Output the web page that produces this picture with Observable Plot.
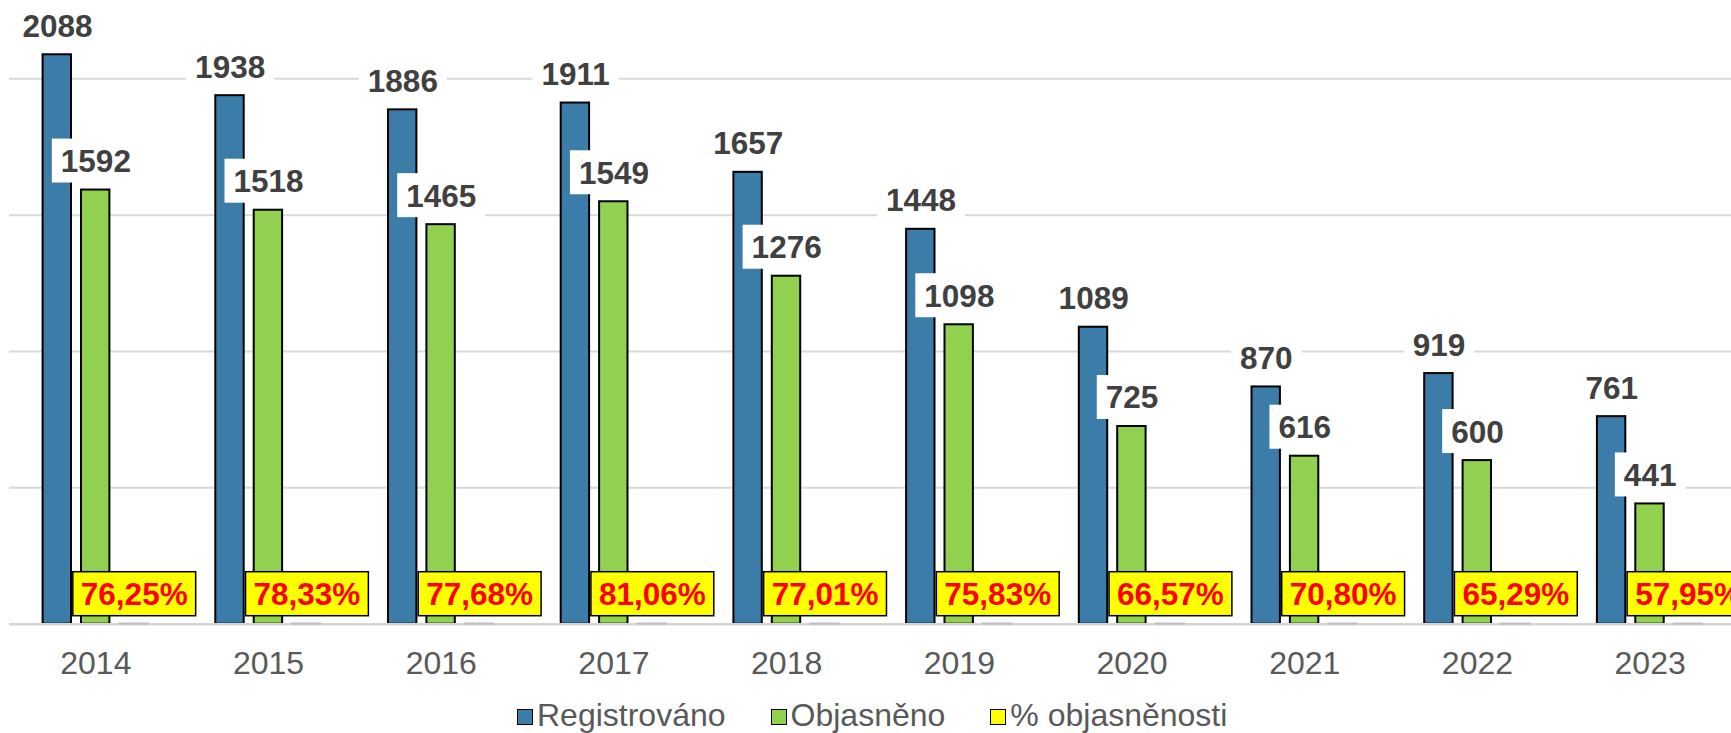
<!DOCTYPE html>
<html>
<head>
<meta charset="utf-8">
<script src="https://cdn.jsdelivr.net/npm/d3@7"></script>
<script src="https://cdn.jsdelivr.net/npm/@observablehq/plot@0.6"></script>
<style>
  html, body { margin: 0; padding: 0; background: #ffffff; overflow: hidden; }
  #chart svg { display: block; }
  #legend { display: flex; justify-content: flex-start; align-items: center; height: 50px;
    font-family: Arial, "Liberation Sans", sans-serif; font-size: 32px; color: #595959;
    padding-left: 517px; }
  .item { display: flex; align-items: center; margin-left: 45px; white-space: nowrap; }
  .item:first-child { margin-left: 0; }
  .sw { width: 16px; height: 16px; box-sizing: border-box; border: 1.5px solid #000; margin-right: 4px; transform: translateY(2px); }
</style>
</head>
<body>
<div id="chart"></div>
<div id="legend"></div>
<script>
const years = ["2014", "2015", "2016", "2017", "2018", "2019", "2020", "2021", "2022", "2023"];
const registrovano = [2088, 1938, 1886, 1911, 1657, 1448, 1089, 870, 919, 761];
const objasneno = [1592, 1518, 1465, 1549, 1276, 1098, 725, 616, 600, 441];
const procento = [76.25, 78.33, 77.68, 81.06, 77.01, 75.83, 66.57, 70.80, 65.29, 57.95];
const seriesNames = ["Registrováno", "Objasněno", "% objasněnosti"];
const seriesColors = ["#3b7ca8", "#92d050", "#ffff00"];
const gridValues = [500, 1000, 1500, 2000];

const rows = years.map((y, i) => ({year: y, reg: registrovano[i], sol: objasneno[i], pct: procento[i]}));
const fmtPct = v => v.toFixed(2).replace(".", ",") + "%";
const font = "Arial, 'Liberation Sans', sans-serif";
const VAL_FILL = "#404040", PCT_FILL = "#ff0000";

const chart = Plot.plot({
  width: 1731,
  height: 690,
  marginTop: 0,
  marginLeft: 9,
  marginRight: 0,
  marginBottom: 66.3,
  style: {fontFamily: font, fontSize: "32px", color: "#595959", background: "#ffffff"},
  x: {domain: years, range: [9, 1736], padding: 0, round: false, tickSize: 0, tickPadding: 27, label: null},
  y: {domain: [0, 2287], axis: null},
  marks: [
    Plot.ruleY(gridValues, {stroke: "#d9d9d9", strokeWidth: 2}),
    Plot.barY(rows, {x: "year", y: "reg", fill: seriesColors[0], stroke: "#000", strokeWidth: 2, insetLeft: 33.6, insetRight: 110.7}),
    Plot.barY(rows, {x: "year", y: "sol", fill: seriesColors[1], stroke: "#000", strokeWidth: 2, insetLeft: 72, insetRight: 72.3}),
    Plot.ruleY([0], {stroke: "#d6d6d6", strokeWidth: 2.5}),
    Plot.barY(rows, {x: "year", y: d => d.pct / 100, fill: seriesColors[2], stroke: "#bfbfbf", strokeWidth: 2, insetLeft: 110.4, insetRight: 33.9}),
    Plot.text(rows, {x: "year", y: "reg", text: d => String(d.reg), dx: -38.4, dy: -18, lineAnchor: "bottom",
      fontSize: 31.5, fontWeight: "bold", fill: VAL_FILL, fontFamily: font}),
    Plot.text(rows, {x: "year", y: "sol", text: d => String(d.sol), dx: 0, dy: -18, lineAnchor: "bottom",
      fontSize: 31.5, fontWeight: "bold", fill: VAL_FILL, fontFamily: font}),
    Plot.text(rows, {x: "year", y: d => 0, text: d => fmtPct(d.pct), dx: 38.4, dy: -19, lineAnchor: "bottom",
      fontSize: 31.5, fontWeight: "bold", fill: PCT_FILL, fontFamily: font})
  ]
});
document.getElementById("chart").appendChild(chart);

function addBoxes(fillMatch, fill, stroke, strokeWidth, padX, padTop, padBottom) {
  chart.querySelectorAll('g[aria-label="text"]').forEach(g => {
    if ((g.getAttribute("fill") || "").toLowerCase() !== fillMatch) return;
    g.querySelectorAll("text").forEach(t => {
      const b = t.getBBox();
      const r = document.createElementNS("http://www.w3.org/2000/svg", "rect");
      r.setAttribute("x", b.x - padX);
      r.setAttribute("y", b.y - padTop);
      r.setAttribute("width", b.width + 2 * padX);
      r.setAttribute("height", b.height + padTop + padBottom);
      r.setAttribute("fill", fill);
      if (stroke) { r.setAttribute("stroke", stroke); r.setAttribute("stroke-width", strokeWidth); }
      else r.setAttribute("stroke", "none");
      const tr = t.getAttribute("transform");
      if (tr) r.setAttribute("transform", tr);
      t.parentNode.insertBefore(r, t);
    });
  });
}
addBoxes(VAL_FILL, "#ffffff", null, 0, 9, 4.5, 3.5);
addBoxes(PCT_FILL, "#ffff00", "#000000", 1.5, 8, 4.5, 3.5);

const legend = document.getElementById("legend");
seriesNames.forEach((name, i) => {
  const it = document.createElement("div");
  it.className = "item";
  const sw = document.createElement("div");
  sw.className = "sw";
  sw.style.background = seriesColors[i];
  const tx = document.createElement("span");
  tx.textContent = name;
  it.appendChild(sw);
  it.appendChild(tx);
  legend.appendChild(it);
});
</script>
</body>
</html>
